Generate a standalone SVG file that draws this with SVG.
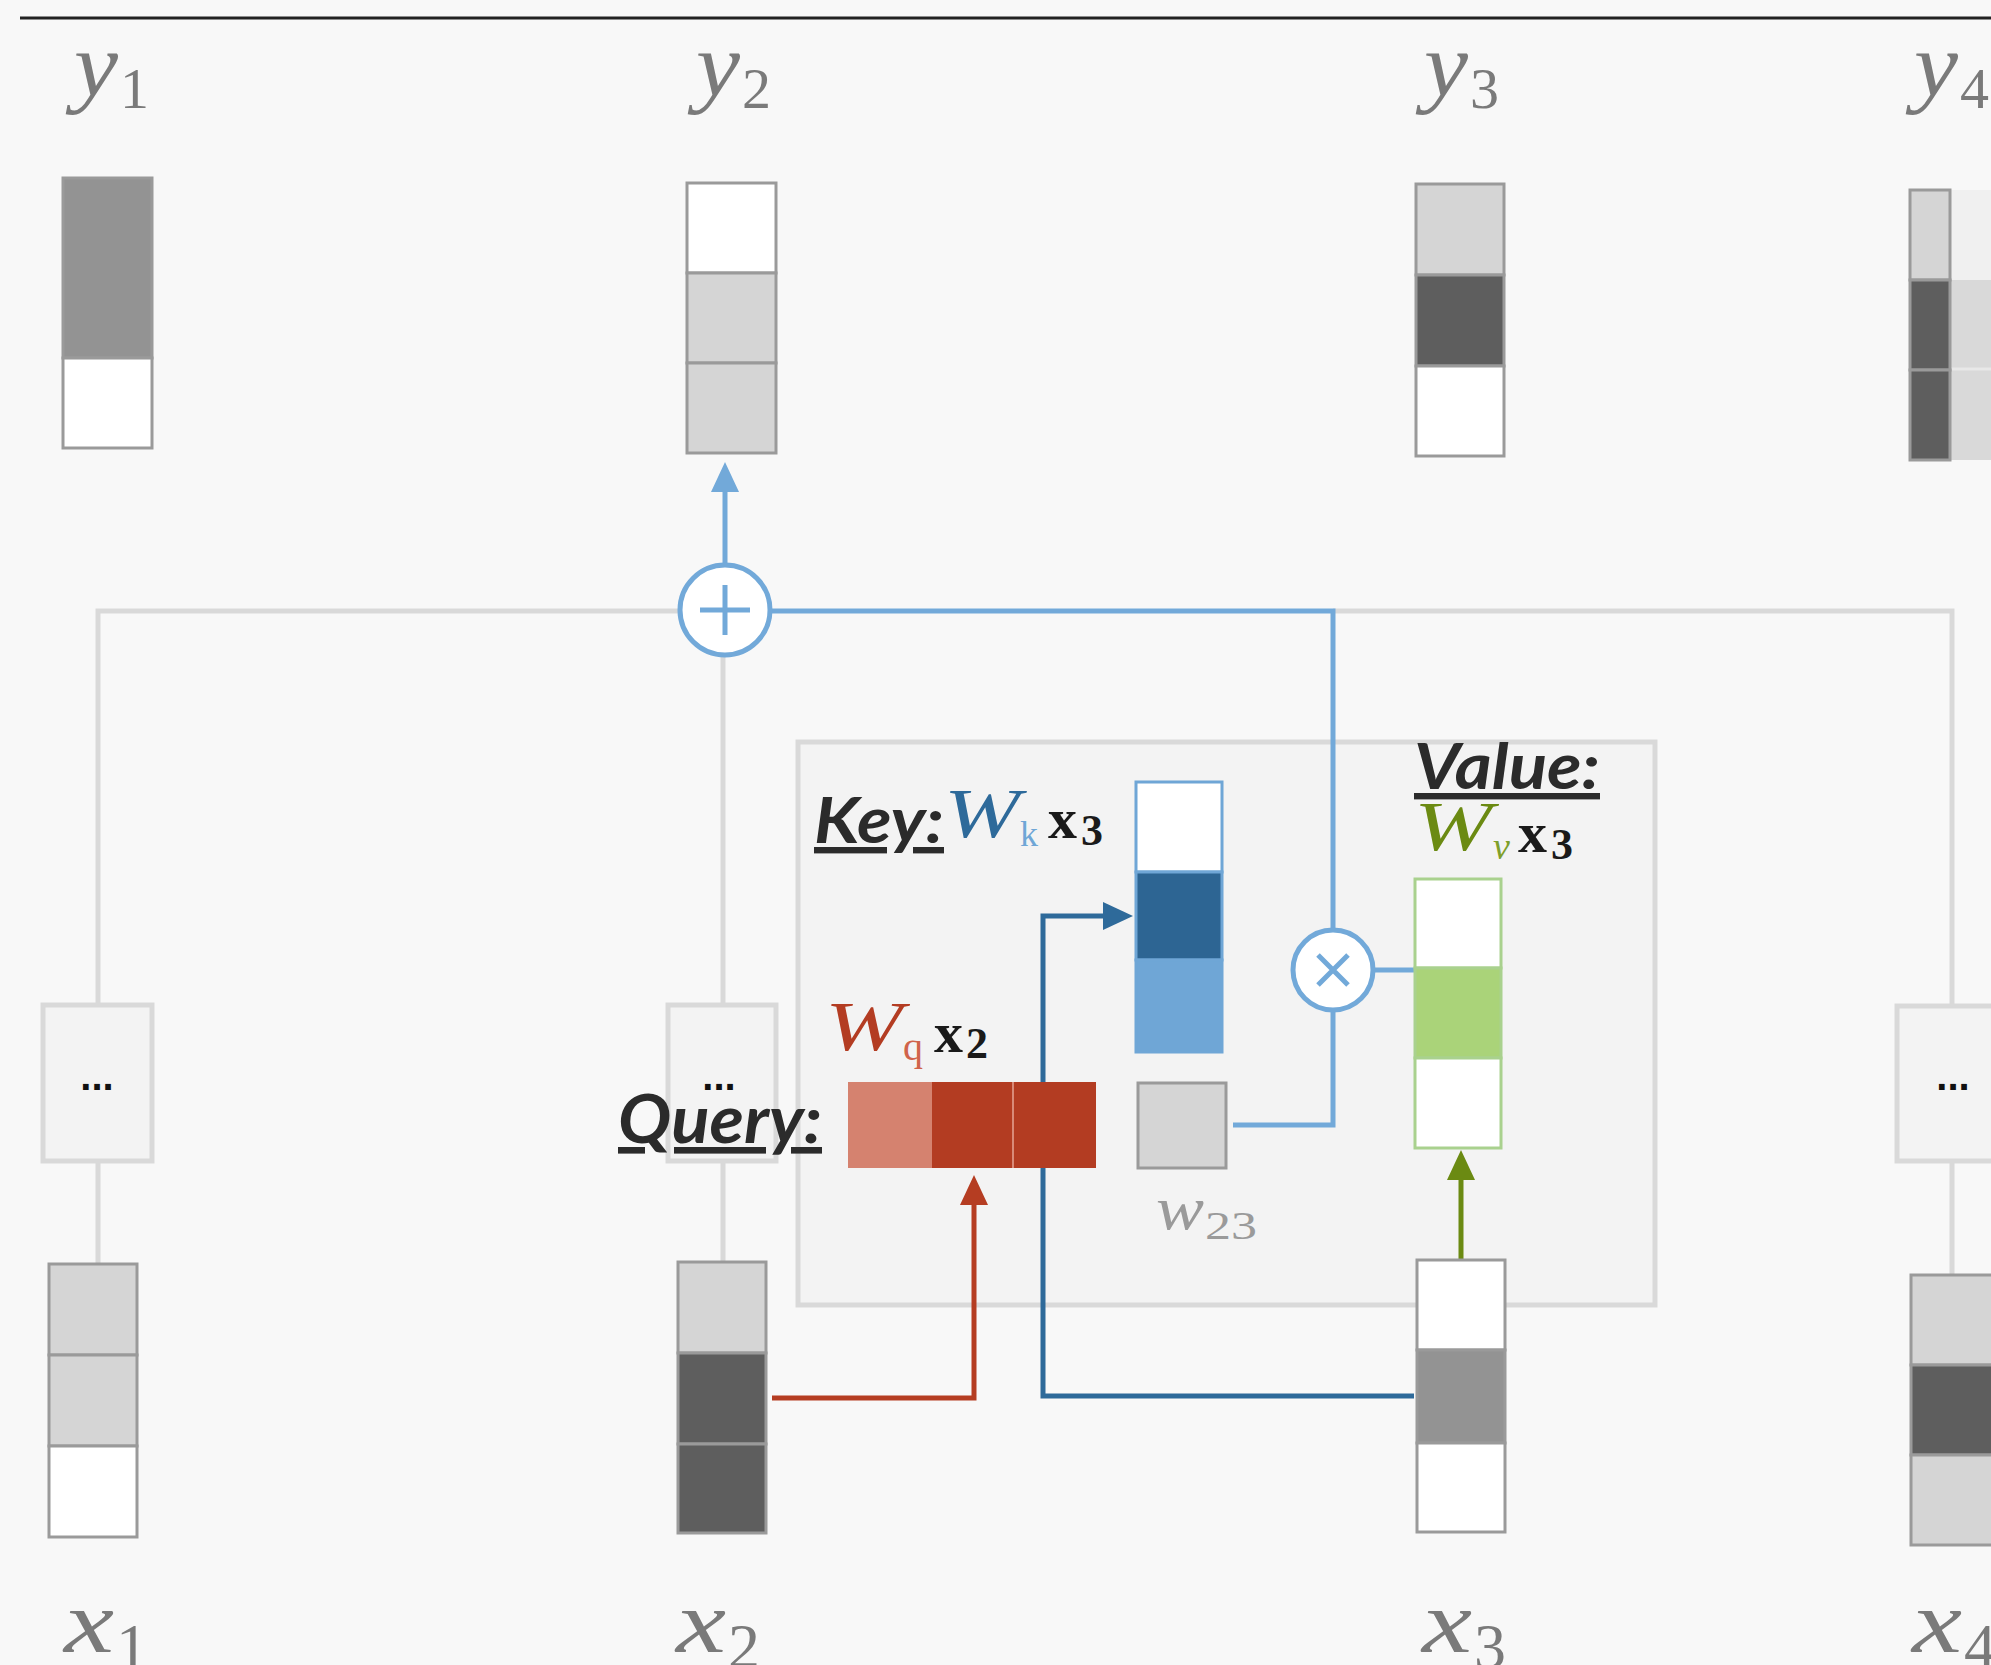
<svg xmlns="http://www.w3.org/2000/svg" width="1991" height="1665" viewBox="0 0 1991 1665">
<style>
.cell{stroke:#9a9a9a;stroke-width:3}
.wh{fill:#ffffff}.lg{fill:#d5d5d5}.mg{fill:#939393}.dg{fill:#5e5e5e}
.gline{fill:none;stroke:#d9d9d9;stroke-width:5}
.bline{fill:none;stroke:#72a9d9;stroke-width:5}
.dots{font-family:"Liberation Sans",Arial,sans-serif;font-weight:bold;font-size:40px;fill:#111;text-anchor:middle}
.dbox{fill:#f3f3f3;stroke:#d9d9d9;stroke-width:5}
.lbl{font-family:"Lato","Liberation Sans",sans-serif;font-style:italic;font-weight:bold;fill:#2b2b2b;text-decoration:underline}
.math{font-family:"Liberation Serif","Times New Roman",serif;font-style:italic}
.num{font-family:"Liberation Serif","Times New Roman",serif}
.var{fill:#7a7a7a}
</style>
<defs>
<marker id="ah-lb" viewBox="0 0 30 28" refX="20" refY="14" markerWidth="30" markerHeight="28" markerUnits="userSpaceOnUse" orient="auto"><path d="M0,0 L30,14 L0,28 z" fill="#72a9d9"/></marker>
<marker id="ah-db" viewBox="0 0 30 28" refX="20" refY="14" markerWidth="30" markerHeight="28" markerUnits="userSpaceOnUse" orient="auto"><path d="M0,0 L30,14 L0,28 z" fill="#2e6a9a"/></marker>
<marker id="ah-rd" viewBox="0 0 30 28" refX="20" refY="14" markerWidth="30" markerHeight="28" markerUnits="userSpaceOnUse" orient="auto"><path d="M0,0 L30,14 L0,28 z" fill="#b53d22"/></marker>
<marker id="ah-gr" viewBox="0 0 30 28" refX="20" refY="14" markerWidth="30" markerHeight="28" markerUnits="userSpaceOnUse" orient="auto"><path d="M0,0 L30,14 L0,28 z" fill="#6b8a12"/></marker>
</defs>
<rect x="0" y="0" width="1991" height="1665" fill="#f8f8f8"/>
<line x1="20" y1="18" x2="1991" y2="18" stroke="#222" stroke-width="3"/>

<!-- gray structural connectors -->
<g id="connectors-gray">
<path class="gline" d="M98,1004 V611 H682"/>
<path class="gline" d="M1333,611 H1952 V1006"/>
<line class="gline" x1="723" y1="655" x2="723" y2="1004"/>
<line class="gline" x1="98" y1="1161" x2="98" y2="1264"/>
<line class="gline" x1="723" y1="1161" x2="723" y2="1262"/>
<line class="gline" x1="1952" y1="1161" x2="1952" y2="1275"/>
</g>

<!-- attention box -->
<g id="attention-box">
<rect x="798" y="742" width="857" height="563" fill="#f3f3f3" stroke="#d9d9d9" stroke-width="5"/>
</g>

<!-- colored connectors -->
<g id="connectors">
<path class="bline" d="M770,611 H1333 V930"/>
<path class="bline" d="M1333,1010 V1125 H1233"/>
<line class="bline" x1="1373" y1="970" x2="1416" y2="970"/>
<line class="bline" x1="725" y1="565" x2="725" y2="472" marker-end="url(#ah-lb)"/>
<path d="M1414,1396 H1043 V916 H1123" fill="none" stroke="#2e6a9a" stroke-width="5" marker-end="url(#ah-db)"/>
<path d="M772,1398 H974 V1185" fill="none" stroke="#b53d22" stroke-width="5" marker-end="url(#ah-rd)"/>
<line x1="1461" y1="1260" x2="1461" y2="1160" stroke="#6b8a12" stroke-width="5" marker-end="url(#ah-gr)"/>
</g>

<!-- output vectors -->
<g id="y1">
<rect class="cell mg" x="63" y="178" width="89" height="180"/>
<rect class="cell wh" x="63" y="358" width="89" height="90"/>
<text x="74" y="96" class="math var" font-size="90" textLength="44" lengthAdjust="spacingAndGlyphs">y</text>
<text x="120" y="108" class="num var" font-size="58">1</text>
</g>
<g id="y2">
<rect class="cell wh" x="687" y="183" width="89" height="90"/>
<rect class="cell lg" x="687" y="273" width="89" height="90"/>
<rect class="cell lg" x="687" y="363" width="89" height="90"/>
<text x="696" y="96" class="math var" font-size="90" textLength="44" lengthAdjust="spacingAndGlyphs">y</text>
<text x="742" y="108" class="num var" font-size="58">2</text>
</g>
<g id="y3">
<rect class="cell lg" x="1416" y="184" width="88" height="91"/>
<rect class="cell dg" x="1416" y="275" width="88" height="91"/>
<rect class="cell wh" x="1416" y="366" width="88" height="90"/>
<text x="1424" y="96" class="math var" font-size="90" textLength="44" lengthAdjust="spacingAndGlyphs">y</text>
<text x="1470" y="108" class="num var" font-size="58">3</text>
</g>
<g id="y4">
<rect x="1950" y="190" width="45" height="90" fill="#f0f0f0"/>
<rect x="1950" y="280" width="45" height="90" fill="#d9d9d9"/>
<rect x="1950" y="370" width="45" height="90" fill="#d9d9d9"/>
<line x1="1950" y1="369" x2="1991" y2="369" stroke="#e8e8e8" stroke-width="3"/>
<rect class="cell lg" x="1910" y="190" width="40" height="90"/>
<rect class="cell dg" x="1910" y="280" width="40" height="90"/>
<rect class="cell dg" x="1910" y="370" width="40" height="90"/>
<text x="1914" y="96" class="math var" font-size="90" textLength="44" lengthAdjust="spacingAndGlyphs">y</text>
<text x="1960" y="108" class="num var" font-size="58">4</text>
</g>

<!-- operators -->
<g id="sum">
<circle cx="725" cy="610" r="45" fill="#ffffff" stroke="#72a9d9" stroke-width="5"/>
<path d="M700,610 H750 M725,585 V635" stroke="#72a9d9" stroke-width="5"/>
</g>
<g id="mul">
<circle cx="1333" cy="970" r="40" fill="#ffffff" stroke="#72a9d9" stroke-width="5"/>
<path d="M1318,955 L1348,985 M1348,955 L1318,985" stroke="#72a9d9" stroke-width="5"/>
</g>

<!-- ellipsis boxes -->
<g id="box1"><rect class="dbox" x="43" y="1005" width="109" height="156"/><text class="dots" x="97" y="1090">...</text></g>
<g id="box2"><rect class="dbox" x="668" y="1005" width="108" height="156"/><text class="dots" x="719" y="1090">...</text></g>
<g id="box4"><rect class="dbox" x="1897" y="1006" width="110" height="155"/><text class="dots" x="1953" y="1090">...</text></g>

<!-- key -->
<g id="key">
<rect class="wh" x="1136" y="782" width="86" height="90" stroke="#6fa6d6" stroke-width="3"/>
<rect x="1136" y="872" width="86" height="88" fill="#2d6593" stroke="#6fa6d6" stroke-width="3"/>
<rect x="1136" y="960" width="86" height="92" fill="#6fa6d6" stroke="#6fa6d6" stroke-width="3"/>
<text x="814" y="843" class="lbl" font-size="64" textLength="130" lengthAdjust="spacingAndGlyphs">Key:</text>
<text x="944" y="837" class="math" font-size="70" fill="#2e6a9a" textLength="76" lengthAdjust="spacingAndGlyphs">W</text>
<text x="1020" y="846" class="num" font-size="36" fill="#6fa6d6">k</text>
<text x="1048" y="838" class="num" font-size="58" font-weight="bold" fill="#1a1a1a">x</text>
<text x="1081" y="845" class="num" font-size="44" font-weight="bold" fill="#1a1a1a">3</text>
</g>

<!-- value -->
<g id="value">
<rect class="wh" x="1415" y="879" width="86" height="89" stroke="#a9d18e" stroke-width="3"/>
<rect x="1415" y="968" width="86" height="90" fill="#aad379" stroke="#a9d18e" stroke-width="3"/>
<rect class="wh" x="1415" y="1058" width="86" height="90" stroke="#a9d18e" stroke-width="3"/>
<text x="1414" y="789" class="lbl" font-size="64" textLength="186" lengthAdjust="spacingAndGlyphs">Value:</text>
<text x="1414" y="850" class="math" font-size="70" fill="#6b8a12" textLength="78" lengthAdjust="spacingAndGlyphs">W</text>
<text x="1493" y="859" class="math" font-size="38" fill="#7f9f2a">v</text>
<text x="1518" y="852" class="num" font-size="58" font-weight="bold" fill="#1a1a1a">x</text>
<text x="1551" y="859" class="num" font-size="44" font-weight="bold" fill="#1a1a1a">3</text>
</g>

<!-- query -->
<g id="query">
<rect x="848" y="1082" width="84" height="86" fill="#d5826f"/>
<rect x="932" y="1082" width="81" height="86" fill="#b33c22"/>
<rect x="1013" y="1082" width="83" height="86" fill="#b33c22"/>
<line x1="1013" y1="1082" x2="1013" y2="1168" stroke="#d98a78" stroke-width="2"/>
<text x="618" y="1143" class="lbl" font-size="66" textLength="204" lengthAdjust="spacingAndGlyphs">Query:</text>
<text x="825" y="1050" class="math" font-size="70" fill="#b33c22" textLength="78" lengthAdjust="spacingAndGlyphs">W</text>
<text x="903" y="1060" class="num" font-size="40" fill="#d0634a">q</text>
<text x="934" y="1052" class="num" font-size="58" font-weight="bold" fill="#1a1a1a">x</text>
<text x="966" y="1058" class="num" font-size="44" font-weight="bold" fill="#1a1a1a">2</text>
</g>

<!-- weight -->
<g id="w23">
<rect x="1138" y="1083" width="88" height="85" fill="#d5d5d5" stroke="#9a9a9a" stroke-width="3"/>
<text x="1156" y="1229" class="math" font-size="62" fill="#9a9a9a" textLength="48" lengthAdjust="spacingAndGlyphs">w</text>
<text x="1205" y="1239" class="num" font-size="40" fill="#9a9a9a" textLength="52" lengthAdjust="spacingAndGlyphs">23</text>
</g>

<!-- input vectors -->
<g id="x1">
<rect class="cell lg" x="49" y="1264" width="88" height="91"/>
<rect class="cell lg" x="49" y="1355" width="88" height="91"/>
<rect class="cell wh" x="49" y="1446" width="88" height="91"/>
<text x="64" y="1652" class="math var" font-size="88" textLength="50" lengthAdjust="spacingAndGlyphs">x</text>
<text x="116" y="1668" class="num var" font-size="64">1</text>
</g>
<g id="x2">
<rect class="cell lg" x="678" y="1262" width="88" height="91"/>
<rect class="cell dg" x="678" y="1353" width="88" height="91"/>
<rect class="cell dg" x="678" y="1444" width="88" height="89"/>
<text x="676" y="1652" class="math var" font-size="88" textLength="50" lengthAdjust="spacingAndGlyphs">x</text>
<text x="728" y="1668" class="num var" font-size="64">2</text>
</g>
<g id="x3">
<rect class="cell wh" x="1417" y="1260" width="88" height="90"/>
<rect class="cell mg" x="1417" y="1350" width="88" height="93"/>
<rect class="cell wh" x="1417" y="1443" width="88" height="89"/>
<text x="1422" y="1652" class="math var" font-size="88" textLength="50" lengthAdjust="spacingAndGlyphs">x</text>
<text x="1474" y="1668" class="num var" font-size="64">3</text>
</g>
<g id="x4">
<rect class="cell lg" x="1911" y="1275" width="88" height="90"/>
<rect class="cell dg" x="1911" y="1365" width="88" height="90"/>
<rect class="cell lg" x="1911" y="1455" width="88" height="90"/>
<text x="1912" y="1652" class="math var" font-size="88" textLength="50" lengthAdjust="spacingAndGlyphs">x</text>
<text x="1964" y="1668" class="num var" font-size="64">4</text>
</g>
</svg>
